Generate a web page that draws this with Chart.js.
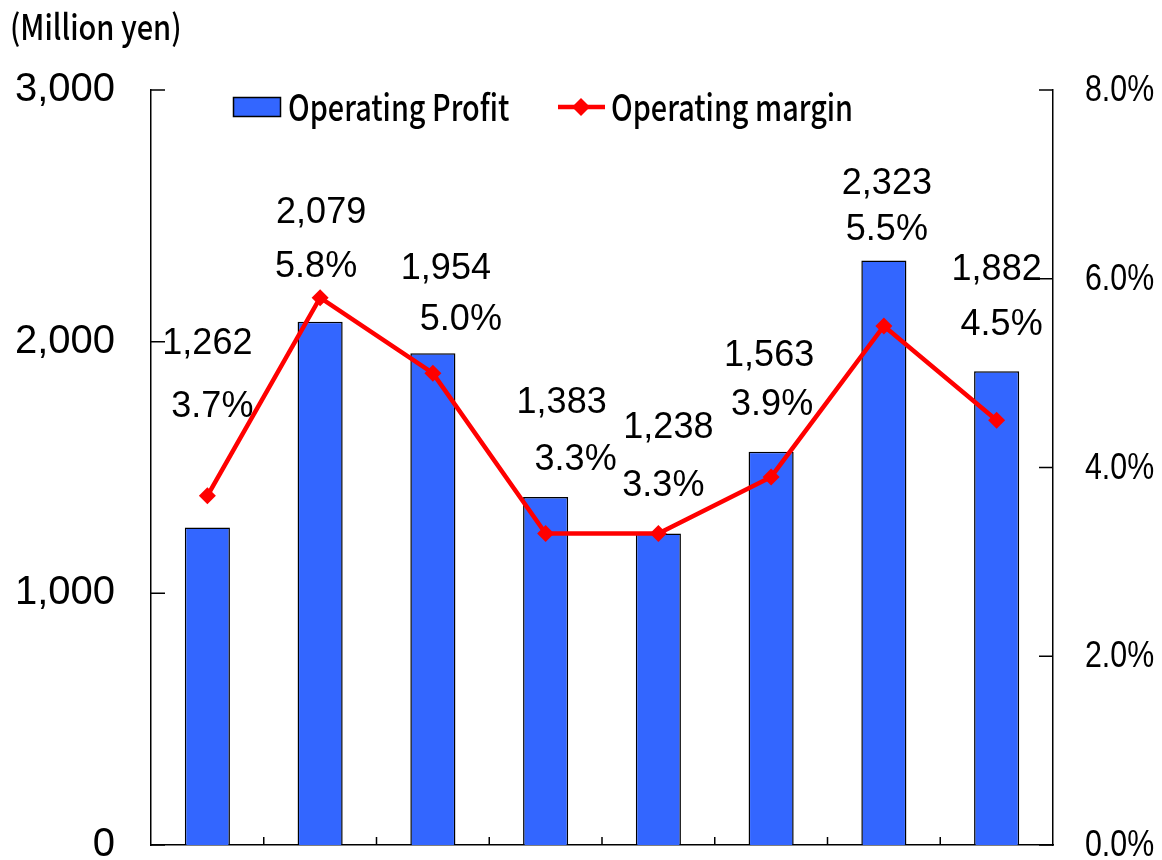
<!DOCTYPE html>
<html>
<head>
<meta charset="utf-8">
<script src="https://cdn.jsdelivr.net/npm/chart.js@4/dist/chart.umd.min.js"></script>
<style>
  html, body { margin: 0; padding: 0; background: #fff; }
</style>
</head>
<body>
<canvas id="profitChart" width="1162" height="860"></canvas>
<script>
// Chart data
const periods = ['P1', 'P2', 'P3', 'P4', 'P5', 'P6', 'P7', 'P8'];
const operatingProfit = [1262, 2079, 1954, 1383, 1238, 1563, 2323, 1882];
const operatingMargin = [3.7, 5.8, 5.0, 3.3, 3.3, 3.9, 5.5, 4.5];
const profitTicks = [0, 1000, 2000, 3000];
const marginTicks = [0, 2, 4, 6, 8];

// hand placed label nudges (px from each margin point), like the original
const marginLabelNudge = [[5, -89], [-4, -31], [28, -53], [30, -73], [5, -47], [1, -72], [3, -96], [5, -95]];
const profitLabelNudge = [[0, -152], [1, -85], [13, -104], [16, -130], [10, -105], [-2, -121], [3, -142], [0, -150]];

const BLUE = '#3366FF';
const RED = '#FF0000';
const ARIAL = "'Liberation Sans', Arial, sans-serif";
const GOTHIC = "'Noto Sans CJK JP', 'Noto Sans', sans-serif";
const GOTHIC_SX = 0.8;

function squeezedText(ctx, text, x, y, font, sx, align) {
    ctx.save();
    ctx.font = font;
    ctx.fillStyle = '#000';
    ctx.textAlign = align || 'left';
    ctx.textBaseline = 'middle';
    ctx.translate(x, y);
    ctx.scale(sx, 1);
    ctx.fillText(text, 0, 0);
    ctx.restore();
}

// inward tick marks on all three axes + axis labels
const axisExtras = {
    id: 'axisExtras',
    afterDraw(chart) {
        const ctx = chart.ctx;
        const a = chart.chartArea;
        const yl = chart.scales.y, yr = chart.scales.y1, x = chart.scales.x;
        ctx.save();
        ctx.strokeStyle = '#000';
        ctx.lineWidth = 1.5;
        ctx.beginPath();
        profitTicks.forEach(v => {
            const py = yl.getPixelForValue(v);
            ctx.moveTo(a.left, py); ctx.lineTo(a.left + 14, py);
        });
        marginTicks.forEach(v => {
            const py = yr.getPixelForValue(v);
            ctx.moveTo(a.right, py); ctx.lineTo(a.right - 14, py);
        });
        const step = (a.right - a.left) / periods.length;
        for (let i = 1; i < periods.length; i++) {
            const px = x.getPixelForValue(i) - step / 2;
            ctx.moveTo(px, a.bottom); ctx.lineTo(px, a.bottom - 8);
        }
        ctx.stroke();
        ctx.restore();

        profitTicks.forEach(v => {
            squeezedText(ctx, v.toLocaleString('en-US'), a.left - 36, yl.getPixelForValue(v),
                '40px ' + ARIAL, 1, 'right');
        });
        marginTicks.forEach(v => {
            squeezedText(ctx, v.toFixed(1) + '%', a.right + 32, yr.getPixelForValue(v) + 1,
                '37px ' + ARIAL, 0.82, 'left');
        });
    }
};

// unit caption + legend drawn inside the plot
const captions = {
    id: 'captions',
    afterDraw(chart) {
        const ctx = chart.ctx;
        squeezedText(ctx, '(Million yen)', 10, 27, '500 35px ' + GOTHIC, 0.83);

        ctx.save();
        ctx.fillStyle = BLUE;
        ctx.strokeStyle = '#000';
        ctx.lineWidth = 1.5;
        ctx.fillRect(233, 97, 48, 20);
        ctx.strokeRect(233.5, 97.5, 47, 19);
        ctx.strokeStyle = RED;
        ctx.lineWidth = 4.5;
        ctx.beginPath();
        ctx.moveTo(558, 107); ctx.lineTo(605, 107);
        ctx.stroke();
        ctx.fillStyle = RED;
        ctx.beginPath();
        ctx.moveTo(581, 98); ctx.lineTo(590, 107); ctx.lineTo(581, 116); ctx.lineTo(572, 107);
        ctx.closePath();
        ctx.fill();
        ctx.restore();

        squeezedText(ctx, 'Operating Profit', 288, 107, '500 36px ' + GOTHIC, GOTHIC_SX);
        squeezedText(ctx, 'Operating margin', 611, 107, '500 36px ' + GOTHIC, GOTHIC_SX);
    }
};

// value + margin labels stacked above each margin point
const valueLabels = {
    id: 'valueLabels',
    afterDatasetsDraw(chart) {
        const ctx = chart.ctx;
        const pts = chart.getDatasetMeta(1).data;
        ctx.save();
        ctx.font = '36px ' + ARIAL;
        ctx.fillStyle = '#000';
        ctx.textAlign = 'center';
        ctx.textBaseline = 'middle';
        pts.forEach((p, i) => {
            const m = marginLabelNudge[i], v = profitLabelNudge[i];
            ctx.fillText(operatingMargin[i].toFixed(1) + '%', p.x + m[0], p.y + m[1]);
            ctx.fillText(operatingProfit[i].toLocaleString('en-US'), p.x + v[0], p.y + v[1]);
        });
        ctx.restore();
    }
};

const ctx = document.getElementById('profitChart').getContext('2d');
new Chart(ctx, {
    data: {
        labels: periods,
        datasets: [{
            type: 'bar',
            label: 'Operating Profit',
            data: operatingProfit,
            yAxisID: 'y',
            backgroundColor: BLUE,
            borderColor: '#000',
            borderWidth: 1.5,
            barPercentage: 0.4,
            categoryPercentage: 1.0,
            order: 2
        }, {
            type: 'line',
            label: 'Operating margin',
            data: operatingMargin,
            yAxisID: 'y1',
            borderColor: RED,
            backgroundColor: RED,
            borderWidth: 4.5,
            pointStyle: 'rectRot',
            pointRadius: 8.5,
            pointBorderWidth: 0,
            tension: 0,
            order: 1
        }]
    },
    options: {
        responsive: false,
        animation: false,
        layout: { padding: { top: 90, bottom: 15, left: 0, right: 0 } },
        plugins: {
            legend: { display: false },
            tooltip: { enabled: false }
        },
        scales: {
            x: {
                offset: true,
                grid: { display: false, drawTicks: false },
                ticks: { display: false },
                border: { display: true, color: '#000', width: 1.5 },
                afterFit: s => { s.height = 0; }
            },
            y: {
                position: 'left',
                min: 0,
                max: 3000,
                afterBuildTicks: s => { s.ticks = profitTicks.map(v => ({ value: v })); },
                grid: { display: false, drawTicks: false },
                border: { display: true, color: '#000', width: 1.5 },
                ticks: { display: false },
                afterFit: s => { s.width = 151; }
            },
            y1: {
                position: 'right',
                min: 0,
                max: 8,
                afterBuildTicks: s => { s.ticks = marginTicks.map(v => ({ value: v })); },
                grid: { display: false, drawTicks: false },
                border: { display: true, color: '#000', width: 1.5 },
                ticks: { display: false },
                afterFit: s => { s.width = 109; }
            }
        }
    },
    plugins: [axisExtras, captions, valueLabels]
});
</script>
</body>
</html>
